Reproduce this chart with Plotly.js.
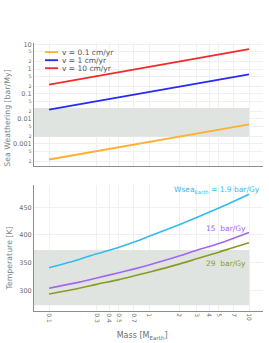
<!DOCTYPE html>
<html><head><meta charset="utf-8">
<script src="https://cdn.plot.ly/plotly-3.0.1.min.js"></script>
<style>html,body{margin:0;padding:0;background:#fff;}#c{width:269px;height:343px;}</style>
</head><body><div id="c"></div>
<script>
// ---- data ----
var massTop = [0.1, 1, 10];
var names = ['v = 0.1 cm/yr', 'v = 1 cm/yr', 'v = 10 cm/yr'];
var weather01 = [0.00023, 0.0012, 0.006];
var weather1 = [0.0235, 0.12, 0.61];
var weather10 = [0.235, 1.2, 6.3];
var weatherColors = ['#ffb030', '#2a2af5', '#f52a2a'];
var bandTop = [0.0019, 0.027];

var massBot = [0.1, 0.2, 0.3, 0.5, 0.7, 1, 2, 3, 5, 7, 10];
var tempA = [341, 356, 366, 378, 387, 397.5, 418.5, 431.5, 448.5, 460.5, 473.5];
var tempB = [304, 315, 322.5, 332, 338.5, 346, 362, 372.5, 384.5, 394, 404.5];
var tempC = [293.5, 304, 311, 319.5, 326, 333, 347.5, 357, 369, 377.5, 386];
var tempLabels = ['Wsea<sub>Earth</sub> = 1.9 bar/Gy', '15  bar/Gy', '29  bar/Gy'];
var tempColors = ['#33bbee', '#a366f0', '#8c9a22'];
var bandBot = [273.15, 373.15];

var massTicks = [0.1, 0.3, 0.4, 0.5, 0.7, 1, 2, 3, 4, 5, 7, 10];
var massTickText = ['0.1', '0.3', '0.4', '0.5', '0.7', '1', '2', '3', '4', '5', '7', '10'];

var xLo = Math.pow(10, -1.15);
var font = 'DejaVu Sans, Verdana, sans-serif';
var grid = '#eef1ef';
var axc = '#8a8f8c';
var txt = '#6a6f6c';
var bandColor = '#dfe4e0';
function pad(n) { var s = ''; for (var i = 0; i < n; i++) s += '&nbsp;'; return s; }

var traces = [];
traces.push({x: [xLo, 10, 10, xLo, xLo], y: [bandTop[0], bandTop[0], bandTop[1], bandTop[1], bandTop[0]],
  xaxis: 'x', yaxis: 'y', fill: 'toself', fillcolor: bandColor, line: {width: 0}, mode: 'lines',
  hoverinfo: 'skip', showlegend: false});
[weather01, weather1, weather10].forEach(function (s, i) {
  traces.push({x: massTop, y: s, xaxis: 'x', yaxis: 'y', mode: 'lines', name: names[i],
    line: {color: weatherColors[i], width: 1.8}, showlegend: false});
});
traces.push({x: [xLo, 10, 10, xLo, xLo], y: [bandBot[0], bandBot[0], bandBot[1], bandBot[1], bandBot[0]],
  xaxis: 'x2', yaxis: 'y2', fill: 'toself', fillcolor: bandColor, line: {width: 0}, mode: 'lines',
  hoverinfo: 'skip', showlegend: false});
[tempA, tempB, tempC].forEach(function (s, i) {
  traces.push({x: massBot, y: s, xaxis: 'x2', yaxis: 'y2', mode: 'lines',
    line: {color: tempColors[i], width: 1.6, shape: 'spline', smoothing: 0.8}, showlegend: false});
});

// compact legend
var shapes = [], ann = [];
var legY = [0.966, 0.936, 0.906];
names.forEach(function (n, i) {
  shapes.push({type: 'line', xref: 'paper', yref: 'paper', x0: 0.048, x1: 0.105, y0: legY[i], y1: legY[i],
    line: {color: weatherColors[i], width: 1.8}});
  ann.push({xref: 'paper', yref: 'paper', x: 0.112, y: legY[i], xanchor: 'left', yanchor: 'middle',
    text: n, showarrow: false, font: {family: font, size: 7.5, color: '#555'}});
});
var annY = [481, 411, 348];
var annX = [0.995, 0.935, 0.935];
tempLabels.forEach(function (t, i) {
  ann.push({xref: 'paper', yref: 'y2', x: annX[i], y: annY[i], xanchor: 'right', yanchor: 'middle',
    text: t, showarrow: false, font: {family: font, size: 7.5, color: tempColors[i]}});
});

var layout = {
  width: 269, height: 343,
  margin: {l: 34, r: 6, t: 43, b: 32},
  paper_bgcolor: '#fff', plot_bgcolor: '#fff',
  font: {family: font, color: txt, size: 7},
  showlegend: false,
  xaxis: {type: 'log', range: [-1.15, 1.14], domain: [0, 1], anchor: 'y',
    tickvals: massTicks, showticklabels: false, gridcolor: grid, showline: true, linecolor: axc,
    linewidth: 1, zeroline: false, ticks: ''},
  yaxis: {type: 'log', range: [-3.9, 1.05], domain: [0.541, 1], anchor: 'x', dtick: 'D2',
    gridcolor: grid, showline: true, linecolor: axc, linewidth: 1, zeroline: false, ticks: '',
    tickfont: {size: 6.5, color: txt},
    title: {text: 'Sea Weathering [bar/My]' + pad(11), font: {size: 7.8, color: '#7a7f7c'}, standoff: 1}},
  xaxis2: {type: 'log', range: [-1.15, 1.14], domain: [0, 1], anchor: 'y2', matches: 'x',
    tickvals: massTicks, ticktext: massTickText, tickangle: 90, gridcolor: grid, showline: true,
    linecolor: axc, linewidth: 1, zeroline: false, ticks: '', tickfont: {size: 6, color: txt},
    title: {text: 'Mass [M<sub>Earth</sub>]' + pad(5), font: {size: 8, color: '#6a6f6c'}, standoff: 10}},
  yaxis2: {range: [263, 490], domain: [0, 0.47], anchor: 'x2', tickvals: [300, 350, 400, 450],
    gridcolor: grid, showline: true, linecolor: axc, linewidth: 1, zeroline: false, ticks: '',
    tickfont: {size: 6.5, color: txt},
    title: {text: 'Temperature [K]' + pad(8), font: {size: 7.8, color: '#7a7f7c'}, standoff: 5}},
  shapes: shapes, annotations: ann
};
Plotly.newPlot('c', traces, layout, {displayModeBar: false, staticPlot: true});
</script></body></html>
